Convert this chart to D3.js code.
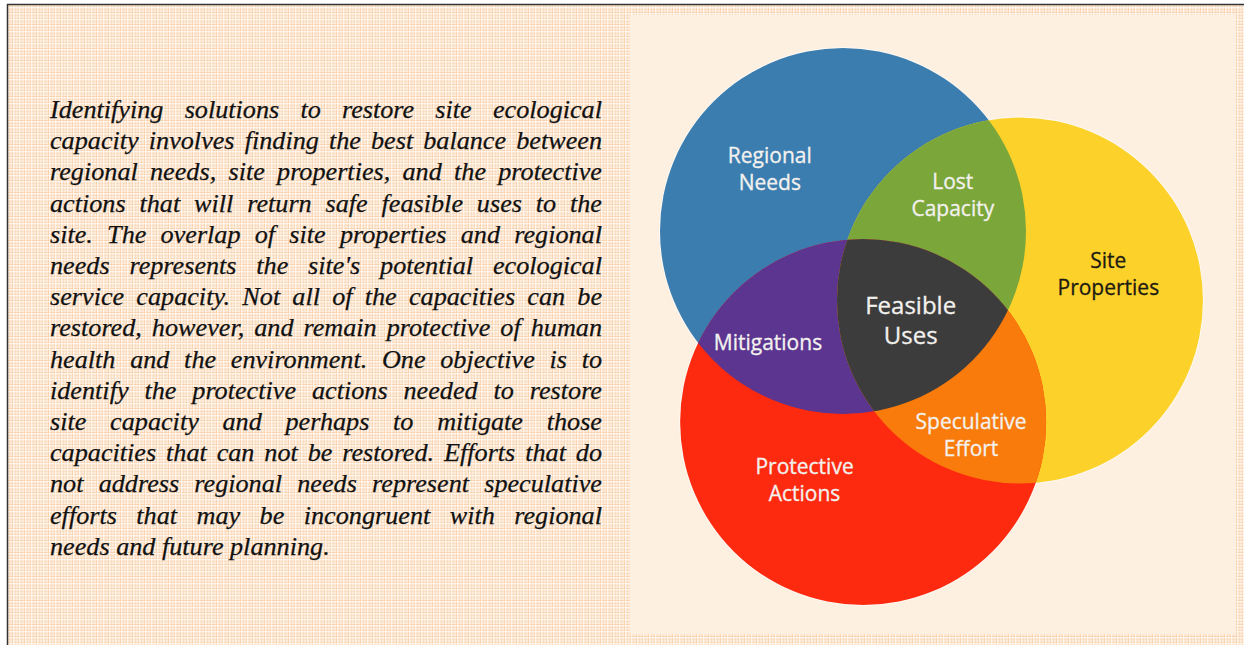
<!DOCTYPE html>
<html>
<head>
<meta charset="utf-8">
<script src="https://cdn.jsdelivr.net/npm/d3@7/dist/d3.min.js"></script>
<style>
  html, body { margin: 0; padding: 0; background: #ffffff; }
  svg { display: block; }
</style>
</head>
<body>
<svg id="chart" width="1244" height="645"></svg>
<script>
// ---------- DATA ----------
const setNames  = ["Regional Needs", "Site Properties", "Protective Actions"];
const setColors = ["#3c7db0", "#fcd22a", "#fd2a10"];
// set centres in units of circle radius (relative Venn layout)
const setU = [0.000, 0.967, 0.110];
const setV = [0.000, 0.380, 1.044];

const pairColors = { "0-1": "#7ba63a", "0-2": "#5b3590", "1-2": "#f87b0b" };
const tripleColor = "#3d3c3d";

const labelLines = [
  ["Regional", "Needs"],
  ["Lost", "Capacity"],
  ["Site", "Properties"],
  ["Feasible", "Uses"],
  ["Mitigations"],
  ["Speculative", "Effort"],
  ["Protective", "Actions"]
];
const labelU = [-0.40, 0.60, 1.45, 0.37, -0.41, 0.70, -0.21];
const labelV = [-0.34, -0.195, 0.238, 0.492, 0.612, 1.117, 1.363];
const labelDark = [false, false, true, false, false, false, false];
const labelBig  = [false, false, false, true, false, false, false];

const paragraphLines = [
  "Identifying solutions to restore site ecological",
  "capacity involves finding the best balance between",
  "regional needs, site properties, and the protective",
  "actions that will return safe feasible uses to the",
  "site. The overlap of site properties and regional",
  "needs represents the site's potential ecological",
  "service capacity. Not all of the capacities can be",
  "restored, however, and remain protective of human",
  "health and the environment. One objective is to",
  "identify the protective actions needed to restore",
  "site capacity and perhaps to mitigate those",
  "capacities that can not be restored. Efforts that do",
  "not address regional needs represent speculative",
  "efforts that may be incongruent with regional",
  "needs and future planning."
];

// ---------- LAYOUT ----------
const W = 1244, H = 645;
const R = 183;
const xS = d3.scaleLinear().domain([0, 1]).range([843, 843 + R]);
const yS = d3.scaleLinear().domain([0, 1]).range([231, 231 + R]);

const svg = d3.select("#chart");
const defs = svg.append("defs");

// plaid background pattern
const pat = defs.append("pattern").attr("id", "plaid")
  .attr("patternUnits", "userSpaceOnUse").attr("width", 12).attr("height", 12);
pat.append("rect").attr("width", 12).attr("height", 12).attr("fill", "#fdecdb");
[0, 3, 6, 9].forEach((p, i) => {
  const op = i === 0 ? 0.65 : (i === 2 ? 0.45 : 0.3);
  pat.append("rect").attr("x", p).attr("y", 0).attr("width", 1).attr("height", 12)
    .attr("fill", "#f8c99b").attr("opacity", op);
  pat.append("rect").attr("x", 0).attr("y", p).attr("width", 12).attr("height", 1)
    .attr("fill", "#f8c99b").attr("opacity", op);
});
[1, 7].forEach(p => {
  pat.append("rect").attr("x", p).attr("y", 0).attr("width", 1).attr("height", 12)
    .attr("fill", "#ffffff").attr("opacity", 0.55);
  pat.append("rect").attr("x", 0).attr("y", p).attr("width", 12).attr("height", 1)
    .attr("fill", "#ffffff").attr("opacity", 0.55);
});

svg.append("rect").attr("x", 8).attr("y", 4).attr("width", W - 8).attr("height", H - 4)
  .attr("fill", "url(#plaid)");
// plain panel for the diagram
svg.append("rect").attr("x", 630).attr("y", 15).attr("width", 606).attr("height", 619)
  .attr("fill", "#fdf0e1");
// border lines
svg.append("line").attr("x1", 7).attr("x2", W).attr("y1", 4.5).attr("y2", 4.5)
  .attr("stroke", "#333").attr("stroke-width", 1.5);
svg.append("line").attr("x1", 7.5).attr("x2", 7.5).attr("y1", 4).attr("y2", H)
  .attr("stroke", "#333").attr("stroke-width", 1.5);

// ---------- VENN ----------
const sets = setNames.map((n, i) => ({ name: n, cx: xS(setU[i]), cy: yS(setV[i]), color: setColors[i], i }));

sets.forEach(s => {
  defs.append("clipPath").attr("id", "clip" + s.i)
    .append("circle").attr("cx", s.cx).attr("cy", s.cy).attr("r", R);
});

const venn = svg.append("g");
// soft halo
venn.selectAll("circle.halo").data(sets).join("circle").attr("class", "halo")
  .attr("cx", d => d.cx).attr("cy", d => d.cy).attr("r", R + 1)
  .attr("fill", "#ffffff").attr("opacity", 0.6);
venn.selectAll("circle.set").data(sets).join("circle").attr("class", "set")
  .attr("cx", d => d.cx).attr("cy", d => d.cy).attr("r", R)
  .attr("fill", d => d.color);

// pairwise intersections
Object.entries(pairColors).forEach(([k, c]) => {
  const [a, b] = k.split("-").map(Number);
  venn.append("circle").attr("cx", sets[a].cx).attr("cy", sets[a].cy).attr("r", R)
    .attr("fill", c).attr("clip-path", `url(#clip${b})`);
});
// triple intersection
venn.append("g").attr("clip-path", "url(#clip0)")
  .append("circle").attr("cx", sets[1].cx).attr("cy", sets[1].cy).attr("r", R)
  .attr("fill", tripleColor).attr("clip-path", "url(#clip2)");

// labels
labelLines.forEach((lines, i) => {
  const fs = labelBig[i] ? 24 : 21;
  const lh = labelBig[i] ? 30 : 27;
  const t = svg.append("text")
    .attr("font-family", "'Open Sans', 'Noto Sans', sans-serif")
    .attr("font-size", fs)
    .attr("fill", labelDark[i] ? "#1d1a12" : "#f3f1ee")
    .attr("stroke", labelDark[i] ? "#1d1a12" : "#f3f1ee")
    .attr("stroke-width", 0.3)
    .attr("text-anchor", "middle");
  const cx = xS(labelU[i]), cy = yS(labelV[i]);
  const y0 = cy - (lines.length - 1) * lh / 2;
  lines.forEach((ln, j) => {
    t.append("tspan").attr("x", cx).attr("y", y0 + j * lh).attr("dy", "0.35em").text(ln);
  });
});

// ---------- PARAGRAPH (justified) ----------
const pX0 = 50, pX1 = 602, pY0 = 118, pLH = 31.2;
const para = svg.append("g")
  .attr("font-family", "'Liberation Serif', 'Times New Roman', serif")
  .attr("font-style", "italic")
  .attr("font-size", 26.2)
  .attr("fill", "#111")
  .attr("stroke", "#111")
  .attr("stroke-width", 0.25);
paragraphLines.forEach((line, li) => {
  const y = pY0 + li * pLH;
  const words = line.split(" ");
  const last = li === paragraphLines.length - 1;
  const nodes = words.map(w => para.append("text").attr("y", y).text(w));
  const widths = nodes.map(n => n.node().getComputedTextLength());
  const total = d3.sum(widths);
  let gap = last ? 6.5 : (pX1 - pX0 - total) / (words.length - 1);
  let x = pX0;
  nodes.forEach((n, k) => { n.attr("x", x); x += widths[k] + gap; });
});
</script>
</body>
</html>
